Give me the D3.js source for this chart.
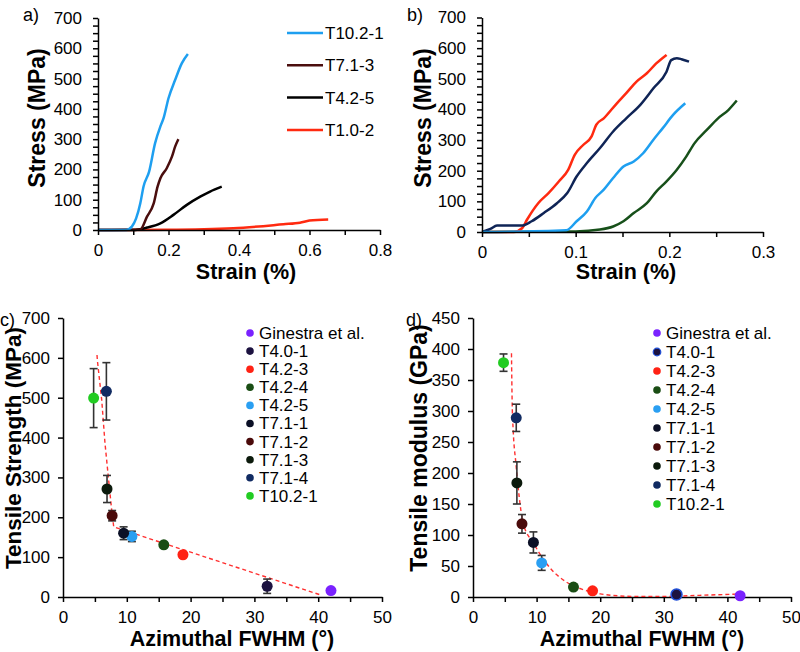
<!DOCTYPE html>
<html>
<head>
<meta charset="utf-8">
<script src="https://cdn.jsdelivr.net/npm/d3@7"></script>
<style>
  body { margin: 0; background: #fff; }
  svg { display: block; font-family: "Liberation Sans", Arial, sans-serif; }
  .axis text { font-size: 17px; fill: #000; }
  .axis path, .axis line { stroke: #000; stroke-width: 1.5; }
  .xtitle { font-size: 21.5px; font-weight: bold; }
  .ytitle { font-size: 23px; font-weight: bold; }
  .plabel { font-size: 18px; }
  .leg { font-size: 17px; }
</style>
</head>
<body>
<svg id="chart" width="800" height="652"></svg>
<script>
// ---- panel a: stress-strain curves
const aNames = ["T10.2-1", "T7.1-3", "T4.2-5", "T1.0-2"];
const aColors = ["#1e9ff0", "#4a0e0e", "#000000", "#ff2a10"];
const aT10 = [[0,0],[0.08,0],[0.096,11],[0.12,88],[0.129,143],[0.145,193],[0.162,287],[0.177,342],[0.186,369],[0.2,435],[0.219,496],[0.238,551],[0.255,581]];
const aT7 = [[0,0],[0.12,2],[0.139,44],[0.158,88],[0.169,143],[0.177,171],[0.195,204],[0.21,243],[0.219,276],[0.228,300]];
const aT4 = [[0,0],[0.1,0],[0.139,8],[0.177,22],[0.214,50],[0.252,83],[0.29,110],[0.318,127],[0.351,143]];
const aT1 = [[0,0],[0.195,1],[0.384,6],[0.526,19],[0.573,24],[0.6,31],[0.653,35]];
const aXTicks = [0, 0.2, 0.4, 0.6, 0.8];
const aYTicks = [0, 100, 200, 300, 400, 500, 600, 700];

// ---- panel b: stress-strain curves
const bColors = ["#17501a", "#ff2a10", "#0f2456", "#1e9ff0"];
const bGreen = [[0,0],[0.1,2],[0.126,8],[0.14,18],[0.151,35],[0.162,62],[0.176,94],[0.186,132],[0.197,165],[0.208,203],[0.218,246],[0.227,290],[0.24,333],[0.252,371],[0.263,398],[0.272,429]];
const bRed = [[0,0],[0.034,0],[0.043,13],[0.048,40],[0.06,94],[0.071,127],[0.082,165],[0.092,203],[0.099,252],[0.108,284],[0.117,312],[0.122,350],[0.13,371],[0.144,420],[0.154,453],[0.165,491],[0.176,518],[0.186,550],[0.197,578]];
const bNavy = [[0,0],[0.009,10],[0.016,21],[0.043,21],[0.053,35],[0.066,62],[0.08,94],[0.091,127],[0.101,181],[0.112,225],[0.126,274],[0.14,328],[0.154,371],[0.169,415],[0.183,469],[0.197,523],[0.202,561],[0.208,567],[0.213,564],[0.221,556]];
const bBlue = [[0,0],[0.09,6],[0.101,35],[0.112,67],[0.121,111],[0.13,138],[0.14,176],[0.151,214],[0.162,230],[0.172,257],[0.183,301],[0.193,339],[0.204,382],[0.217,420]];
const bXTicks = [0, 0.1, 0.2, 0.3];

// ---- panels c, d: properties vs azimuthal FWHM
const samples = ["Ginestra et al.", "T4.0-1", "T4.2-3", "T4.2-4", "T4.2-5", "T7.1-1", "T7.1-2", "T7.1-3", "T7.1-4", "T10.2-1"];
const sampleColors = ["#7a22ff", "#1c1240", "#ff2214", "#1a4d14", "#2a9ff2", "#0b1026", "#4a0a0a", "#0c1a0c", "#112b62", "#22cc22"];
const fwhm = [42.0, 32.0, 18.8, 15.8, 10.8, 9.5, 7.7, 6.9, 6.8, 4.8];
const strength = [16, 27, 106, 131, 152, 160, 204, 271, 516, 499];
const strengthErr = [0, 18, 0, 0, 13, 16, 13, 34, 72, 74];
const modulus = [2, 4, 10, 16, 55, 88, 118, 184, 289, 378];
const modulusErr = [0, 0, 0, 0, 12, 17, 15, 34, 22, 14];
const fitStrength = [[5.33,607],[5.38,595],[6.07,494],[6.58,386],[7.1,302],[7.63,218],[7.95,176],[40.2,6]];
const fitModulus = [[6.05,393],[6.16,312],[6.32,269],[6.74,216],[7.26,162],[7.88,119],[9.5,87],[12.1,47],[14.7,24],[17.3,12],[20,5],[25.2,1],[30.4,1],[35.6,2.7],[41.9,4.8]];
const cdXTicks = [0, 10, 20, 30, 40, 50];
const cYTicks = [0, 100, 200, 300, 400, 500, 600, 700];
const dYTicks = [0, 50, 100, 150, 200, 250, 300, 350, 400, 450];

const svg = d3.select("#chart");

function isIn(arr, v) { return arr.some(m => Math.abs(m - v) < 1e-9); }
function fmt(v) { return String(+v.toFixed(2)); }

function drawAxes(x, y, xMinor, xMajor, yMinor, yMajor, yPad) {
  svg.append("g").attr("class", "axis")
    .attr("transform", `translate(0,${y.range()[0]})`)
    .call(d3.axisBottom(x).tickValues(xMinor).tickSize(5).tickSizeOuter(0).tickPadding(9)
      .tickFormat(d => isIn(xMajor, d) ? fmt(d) : ""));
  svg.append("g").attr("class", "axis")
    .attr("transform", `translate(${x.range()[0]},0)`)
    .call(d3.axisLeft(y).tickValues(yMinor).tickSize(5).tickSizeOuter(0).tickPadding(yPad)
      .tickFormat(d => isIn(yMajor, d) ? fmt(d) : ""));
}

function titles(xt, xx, xy, yt, yx, yy, lab, lx, ly, ySize) {
  svg.append("text").attr("class", "xtitle").attr("x", xx).attr("y", xy)
    .attr("text-anchor", "middle").text(xt);
  svg.append("text").attr("class", "ytitle")
    .attr("transform", `translate(${yx},${yy}) rotate(-90)`)
    .style("font-size", ySize ? ySize + "px" : null)
    .attr("text-anchor", "middle").text(yt);
  svg.append("text").attr("class", "plabel").attr("x", lx).attr("y", ly).text(lab);
}

// ---------- panel a
{
  const x = d3.scaleLinear().domain([0, 0.8]).range([98, 380]);
  const y = d3.scaleLinear().domain([0, 700]).range([230, 18]);
  const line = d3.line().x(d => x(d[0])).y(d => y(d[1])).curve(d3.curveMonotoneX);
  [aT1, aT4, aT7, aT10].forEach((s, i) => {
    svg.append("path").datum(s).attr("d", line).attr("fill", "none")
      .attr("stroke", aColors[3 - i]).attr("stroke-width", 2.5);
  });
  drawAxes(x, y, d3.range(0, 0.81, 0.1), aXTicks, d3.range(0, 701, 25), aYTicks, 11);
  titles("Strain (%)", 246, 279, "Stress (MPa)", 45, 118, "a)", 23, 21);
  const lg = svg.append("g");
  aNames.forEach((n, i) => {
    const ly = 33 + i * 32.3;
    lg.append("line").attr("x1", 287).attr("x2", 323).attr("y1", ly).attr("y2", ly)
      .attr("stroke", aColors[i]).attr("stroke-width", 2.5);
    lg.append("text").attr("class", "leg").attr("x", 325).attr("y", ly).attr("dy", "0.35em").text(n);
  });
}

// ---------- panel b
{
  const x = d3.scaleLinear().domain([0, 0.3]).range([482, 763]);
  const y = d3.scaleLinear().domain([0, 700]).range([232, 17.5]);
  const line = d3.line().x(d => x(d[0])).y(d => y(d[1])).curve(d3.curveMonotoneX);
  [bGreen, bRed, bNavy, bBlue].forEach((s, i) => {
    svg.append("path").datum(s).attr("d", line).attr("fill", "none")
      .attr("stroke", bColors[i]).attr("stroke-width", 2.5);
  });
  drawAxes(x, y, d3.range(0, 0.301, 0.05), bXTicks, d3.range(0, 701, 25), aYTicks, 11);
  titles("Strain (%)", 626, 279, "Stress (MPa)", 431, 118, "b)", 407, 21);
}

// ---------- panels c, d
function scatterPanel(opt) {
  const x = d3.scaleLinear().domain([0, 50]).range(opt.xr);
  const y = d3.scaleLinear().domain([0, opt.ymax]).range([597, 318]);
  drawAxes(x, y, d3.range(0, 51, 5), cdXTicks, opt.yTicks, opt.yTicks, 8);
  const line = d3.line().x(d => x(d[0])).y(d => y(d[1])).curve(opt.curve);
  svg.append("path").datum(opt.fit).attr("d", line).attr("fill", "none")
    .attr("stroke", "#ff3030").attr("stroke-width", 1.4).attr("stroke-dasharray", "4,3");
  const g = svg.append("g");
  samples.forEach((s, i) => {
    const v = opt.vals[i], e = opt.errs[i], cx = x(fwhm[i]);
    if (e > 0) {
      g.append("line").attr("x1", cx).attr("x2", cx).attr("y1", y(v - e)).attr("y2", y(v + e))
        .attr("stroke", "#333").attr("stroke-width", 1.6);
      [v - e, v + e].forEach(t => g.append("line").attr("x1", cx - 4).attr("x2", cx + 4)
        .attr("y1", y(t)).attr("y2", y(t)).attr("stroke", "#333").attr("stroke-width", 1.6));
    }
  });
  samples.forEach((s, i) => {
    g.append("circle").attr("cx", x(fwhm[i])).attr("cy", y(opt.vals[i])).attr("r", 5.5)
      .attr("fill", sampleColors[i])
      .attr("stroke", opt.ring && i === 1 ? "#1f4fd8" : "none").attr("stroke-width", 1.5);
  });
  samples.forEach((s, i) => {
    const ly = 333 + i * opt.step;
    svg.append("circle").attr("cx", opt.lx).attr("cy", ly).attr("r", 3.8)
      .attr("fill", sampleColors[i])
      .attr("stroke", opt.ring && i === 1 ? "#1f4fd8" : "none").attr("stroke-width", 1.2);
    svg.append("text").attr("class", "leg").attr("x", opt.lx + 9).attr("y", ly)
      .attr("dy", "0.35em").text(s);
  });
}

scatterPanel({ xr: [63, 382], ymax: 700, yTicks: cYTicks, vals: strength, errs: strengthErr,
  fit: fitStrength, curve: d3.curveLinear, lx: 250, step: 18.1, ring: false });
titles("Azimuthal FWHM (°)", 232, 646, "Tensile Strength (MPa)", 21, 448, "c)", 0, 326, 22.5);

scatterPanel({ xr: [473, 791], ymax: 450, yTicks: dYTicks, vals: modulus, errs: modulusErr,
  fit: fitModulus, curve: d3.curveMonotoneX, lx: 657, step: 19, ring: true });
titles("Azimuthal FWHM (°)", 642, 646, "Tensile modulus (GPa)", 427, 448, "d)", 406, 326);
</script>
</body>
</html>
